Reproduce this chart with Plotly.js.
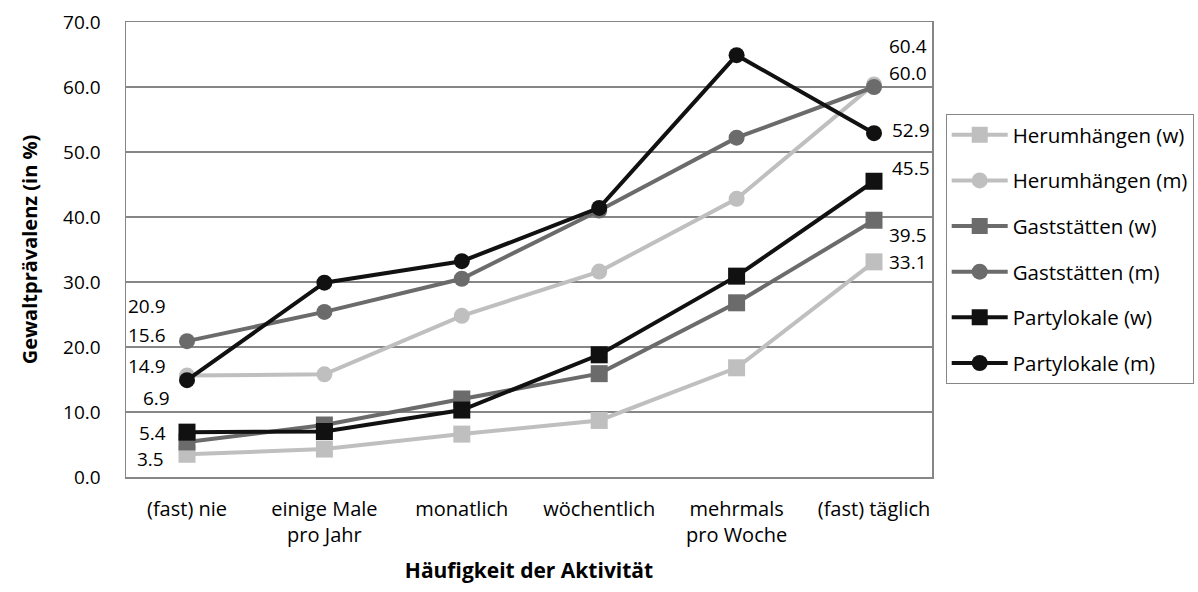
<!DOCTYPE html>
<html>
<head>
<meta charset="utf-8">
<script src="https://cdn.plot.ly/plotly-3.0.1.min.js"></script>
<style>html,body{margin:0;padding:0;background:#fff;}#chart{width:1198px;height:592px;}</style>
</head>
<body>
<div id="chart"></div>
<script>
const categories = ["(fast) nie", "einige Male<br>pro Jahr", "monatlich", "wöchentlich", "mehrmals<br>pro Woche", "(fast) täglich"];
const seriesNames = ["Herumhängen (w)", "Herumhängen (m)", "Gaststätten (w)", "Gaststätten (m)", "Partylokale (w)", "Partylokale (m)"];
const herumhaengenW = [3.5, 4.3, 6.6, 8.7, 16.8, 33.1];
const herumhaengenM = [15.6, 15.8, 24.8, 31.6, 42.8, 60.4];
const gaststaettenW = [5.4, 8.0, 12.0, 15.9, 26.8, 39.5];
const gaststaettenM = [20.9, 25.4, 30.5, 41.0, 52.2, 60.0];
const partylokaleW = [6.9, 7.0, 10.3, 18.8, 30.9, 45.5];
const partylokaleM = [14.9, 29.9, 33.2, 41.4, 64.9, 52.9];
const yTicks = [0, 10, 20, 30, 40, 50, 60, 70];

const allSeries = [herumhaengenW, herumhaengenM, gaststaettenW, gaststaettenM, partylokaleW, partylokaleM];
const colors = ["#BFBFBF", "#BFBFBF", "#6B6B6B", "#6B6B6B", "#111111", "#111111"];
const symbols = ["square", "circle", "square", "circle", "square", "circle"];

const traces = allSeries.map((vals, i) => ({
  type: "scatter",
  mode: "lines+markers",
  x: categories,
  y: vals,
  name: seriesNames[i],
  legendgroup: "g" + i,
  line: {color: colors[i], width: 4},
  marker: {color: colors[i], symbol: symbols[i], size: symbols[i] === "square" ? 17 : 16},
  hoverinfo: "x+y+name"
}));

// label offsets (pixels) for first and last category
const firstOffsets = [[-37, -5], [-40, 41], [-35, 9], [-40, 35], [-31, 34], [-40, 14]];
const lastOffsets = [[34, 0], [34, 38], [34, -15], [34, 14], [37, 13], [37, 3]];
const annotations = [];
allSeries.forEach((vals, i) => {
  annotations.push({x: categories[0], y: vals[0], text: vals[0].toFixed(1), showarrow: false,
    xshift: firstOffsets[i][0], yshift: firstOffsets[i][1], font: {size: 19, color: "#000"}});
  const n = vals.length - 1;
  annotations.push({x: categories[n], y: vals[n], text: vals[n].toFixed(1), showarrow: false,
    xshift: lastOffsets[i][0], yshift: lastOffsets[i][1], font: {size: 19, color: "#000"}});
});

const layout = {
  width: 1198, height: 592,
  margin: {l: 126, r: 266, t: 22, b: 115, autoexpand: false},
  paper_bgcolor: "#fff", plot_bgcolor: "#fff",
  font: {family: "Open Sans, sans-serif", size: 19, color: "#000"},
  showlegend: true,
  legend: {
    x: 1.017, y: 0.798, xanchor: "left", yanchor: "top",
    bordercolor: "#868686", borderwidth: 1, bgcolor: "#fff",
    font: {size: 20.5, color: "#000"}, tracegroupgap: 16, itemwidth: 56
  },
  xaxis: {
    type: "category", showgrid: false, showline: true, mirror: true,
    linecolor: "#868686", linewidth: 1.5, ticks: "", tickfont: {size: 20},
    ticklabelstandoff: 13,
    title: {text: "<b>Häufigkeit der Aktivität</b>", font: {size: 21}, standoff: 17},
    fixedrange: true
  },
  yaxis: {
    range: [0, 70], tickvals: yTicks, tickformat: ".1f", showgrid: true,
    gridcolor: "#868686", gridwidth: 1.2, showline: true, mirror: true,
    linecolor: "#868686", linewidth: 1.5, ticks: "", tickfont: {size: 19},
    zeroline: false, ticklabelstandoff: 20,
    title: {text: "<b>Gewaltprävalenz (in %)</b>", font: {size: 20}, standoff: 20},
    fixedrange: true
  },
  annotations: annotations
};

Plotly.newPlot("chart", traces, layout, {displayModeBar: false, staticPlot: true});
</script>
</body>
</html>
